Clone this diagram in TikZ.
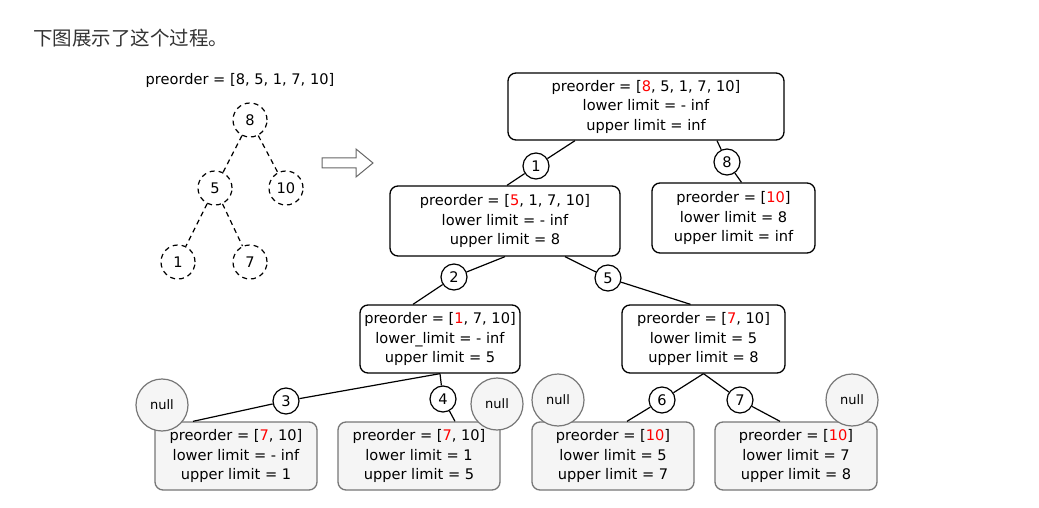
\documentclass[tikz,border=0pt]{standalone}
\usepackage{fontspec}
\setmainfont{DejaVu Sans}
\newfontfamily\cjk{Noto Sans CJK SC}
\usetikzlibrary{shapes,arrows}
\definecolor{leafgray}{HTML}{F5F5F5}
\definecolor{edgegray}{HTML}{777777}
\newcommand{\hl}[1]{\textcolor{red}{#1}}
\tikzset{%
txt/.style={font=\fontsize{14.6}{19.5}\selectfont, align=center},
limitbox/.style={txt, draw, line width=1.3pt, rounded corners=8pt, fill=white, inner sep=0pt},
leafbox/.style={limitbox, draw=edgegray, fill=leafgray, minimum width=162pt, minimum height=68pt},
numc/.style={circle, draw, line width=1.2pt, fill=white, inner sep=0pt, minimum size=26pt, txt},
nullc/.style={circle, draw=edgegray, line width=1.2pt, fill=leafgray, inner sep=0pt, minimum size=52pt, font=\fontsize{13}{14}\selectfont},
dashc/.style={circle, draw, dash pattern=on 5pt off 4pt, line width=1.2pt, minimum size=34pt, inner sep=0pt, txt},
link/.style={line width=1.2pt},
}

\begin{document}
\begin{tikzpicture}[x=1pt,y=-1pt]
    \useasboundingbox (0,0) rectangle (1039,508);
    \node[anchor=west, inner sep=0pt, font=\cjk\fontsize{19.5}{21}\selectfont, text=black!80] (title) at (33,38) {下图展示了这个过程。};
    % left tree
    \node[txt] (pre) at (240,80) {preorder = [8, 5, 1, 7, 10]};
    \node[dashc] (t8) at (250,120) {8};
    \node[dashc] (t5) at (215,188) {5};
    \node[dashc] (t10) at (286,188) {10};
    \node[dashc] (t1) at (178,262) {1};
    \node[dashc] (t7) at (250,262) {7};
    \draw[link,dash pattern=on 5pt off 4pt] (t8)--(t5);
    \draw[link,dash pattern=on 5pt off 4pt] (t8)--(t10);
    \draw[link,dash pattern=on 5pt off 4pt] (t5)--(t1);
    \draw[link,dash pattern=on 5pt off 4pt] (t5)--(t7);
    % arrow
    \coordinate (go) at (322,163);
    \draw[draw=black!60, line width=1pt] (go) ++(0,-5) -- ++(34,0) -- ++(0,-9) -- ++(17,14)
        -- ++(-17,14) -- ++(0,-9) -- ++(-34,0) -- cycle;
    % right tree
    \node[limitbox, minimum width=276pt, minimum height=67pt] (A) at (646,106.5)
        {preorder = [\hl{8}, 5, 1, 7, 10]\\lower limit = - inf\\upper limit = inf};
    \node[limitbox, minimum width=230pt, minimum height=70pt] (B) at (505,221)
        {preorder = [\hl{5}, 1, 7, 10]\\lower limit = - inf\\upper limit = 8};
    \node[limitbox, minimum width=163pt, minimum height=70pt] (C) at (733.5,218)
        {preorder = [\hl{10}]\\lower limit = 8\\upper limit = inf};
    \node[limitbox, minimum width=160pt, minimum height=68pt] (D) at (440,339)
        {preorder = [\hl{1}, 7, 10]\\lower\_limit = - inf\\upper limit = 5};
    \node[limitbox, minimum width=163pt, minimum height=68pt] (E) at (703.5,339)
        {preorder = [\hl{7}, 10]\\lower limit = 5\\upper limit = 8};
    \node[leafbox] (F) at (236,456) {preorder = [\hl{7}, 10]\\lower limit = - inf\\upper limit = 1};
    \node[leafbox] (G) at (419,456) {preorder = [\hl{7}, 10]\\lower limit = 1\\upper limit = 5};
    \node[leafbox] (H) at (613,456) {preorder = [\hl{10}]\\lower limit = 5\\upper limit = 7};
    \node[leafbox] (I) at (796,456) {preorder = [\hl{10}]\\lower limit = 7\\upper limit = 8};
    \node[nullc] (n1) at (162,405) {null};
    \node[nullc] (n2) at (497,404) {null};
    \node[nullc] (n3) at (558,400) {null};
    \node[nullc] (n4) at (852,400) {null};
    % step numbers
    \node[numc] (c1) at (536,166) {1};
    \node[numc] (c8) at (727,162) {8};
    \node[numc] (c2) at (454,277) {2};
    \node[numc] (c5) at (608,278) {5};
    \node[numc] (c3) at (286,401) {3};
    \node[numc] (c4) at (443,399) {4};
    \node[numc] (c6) at (662,400) {6};
    \node[numc] (c7) at (740,400) {7};
    \draw[link] ([xshift=-71pt]A.south)--(c1)--([xshift=2pt]B.north);
    \draw[link] ([xshift=71pt]A.south)--(c8)--([xshift=8pt]C.north);
    \draw[link] (B.south)--(c2)--([xshift=-27pt]D.north);
    \draw[link] ([xshift=60pt]B.south)--(c5)--([xshift=-13pt]E.north);
    \draw[link] (D.south)--(c3)--([xshift=-43pt]F.north);
    \draw[link] (D.south)--(c4)--([xshift=36pt]G.north);
    \draw[link] (E.south)--(c6)--([xshift=14pt]H.north);
    \draw[link] (E.south)--(c7)--([xshift=-16pt]I.north);
\end{tikzpicture}
\end{document}
